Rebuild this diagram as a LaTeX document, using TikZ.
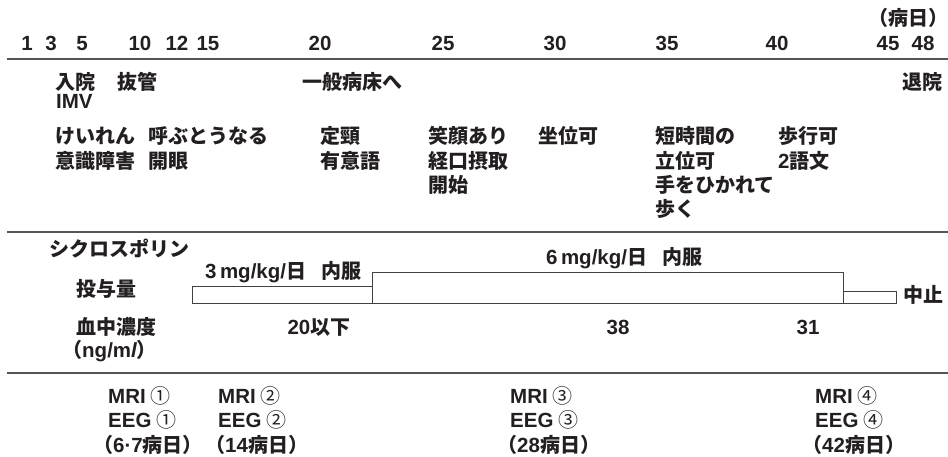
\documentclass[tikz,border=0pt]{standalone}
\usepackage{fontspec}
\newfontfamily\jp{Noto Sans CJK JP}
\newfontfamily\latinfont{Liberation Sans}[UprightFont=* Bold, BoldFont=* Bold, ItalicFont=* Bold Italic, BoldItalicFont=* Bold Italic]
\newcommand\LT[1]{{\latinfont\fontsize{20.5}{24}\selectfont #1}}
\definecolor{ink}{HTML}{231F20}
\definecolor{rule}{HTML}{555555}
\tikzset{
  lbl/.style={anchor=west, inner sep=0pt, text height=17.6pt, text depth=2.4pt,
    font=\jp\bfseries\fontsize{20}{24}\selectfont, text=ink},
  num/.style={lbl, anchor=center},
  sep/.style={draw=rule, line width=1.3pt},
  bar/.style={draw=ink!85, line width=0.9pt}
}
\begin{document}
\begin{tikzpicture}[x=1pt,y=-1pt]
\useasboundingbox (0,0) rectangle (948,456);
% axis
\node[lbl] (unit) at (868,18) {（病日）};
\foreach \d/\x in {1/27,3/51,5/82,10/140,12/177,15/208,20/320,25/443,30/555,35/667,40/777,45/888,48/923}
  \node[num] (d\d) at (\x,42.5) {\LT{\d}};
\coordinate (s1l) at (7,59); \coordinate (s1r) at (948,59);
\draw[sep] (s1l) -- (s1r);
% events
\node[lbl] (e1) at (55,82) {入院};
\node[lbl] (e1b) at (56,101) {\LT{IMV}};
\node[lbl] (e2) at (117,82) {抜管};
\node[lbl] (e3) at (302,82) {一般病床へ};
\node[lbl] (e4) at (902,82) {退院};
% status
\node[lbl] (a1) at (55,136) {けいれん};
\node[lbl] (a2) at (55,161) {意識障害};
\node[lbl] (b1) at (148,136) {呼ぶとうなる};
\node[lbl] (b2) at (148,161) {開眼};
\node[lbl] (c1) at (320,136) {定頸};
\node[lbl] (c2) at (320,161) {有意語};
\node[lbl] (f1) at (428,136) {笑顔あり};
\node[lbl] (f2) at (428,161) {経口摂取};
\node[lbl] (f3) at (428,185) {開始};
\node[lbl] (g1) at (538,136) {坐位可};
\node[lbl] (h1) at (655,136) {短時間の};
\node[lbl] (h2) at (655,161) {立位可};
\node[lbl] (h3) at (655,185) {手をひかれて};
\node[lbl] (h4) at (655,209) {歩く};
\node[lbl] (k1) at (778,136) {歩行可};
\node[lbl] (k2) at (778,161) {\LT{2}語文};
\coordinate (s2l) at (7,232); \coordinate (s2r) at (948,232);
\draw[sep] (s2l) -- (s2r);
% cyclosporin
\node[lbl] (cy) at (49,249) {シクロスポリン};
\node[lbl] (dose) at (76,289) {投与量};
\node[lbl] (conc) at (76,327) {血中濃度};
\node[lbl] (unitc) at (62,350) {（\LT{ng/m{\itshape l}}）};
\node[lbl] (d3) at (205,271) {\LT{3\,mg/kg/}日\hspace{0.75em}内服};
\node[lbl] (d6) at (546,257) {\LT{6\,mg/kg/}日\hspace{0.75em}内服};
\node[lbl] (stop) at (903,295) {中止};
\coordinate (p1) at (192,286); \coordinate (p2) at (372,303);
\coordinate (q1) at (372,272); \coordinate (q2) at (843,303);
\coordinate (r1) at (843,291); \coordinate (r2) at (896,303);
\draw[bar] (p1) rectangle (p2);
\draw[bar] (q1) rectangle (q2);
\draw[bar] (r1) rectangle (r2);
\node[num] (c20) at (319,327) {\LT{20}以下};
\node[num] (c38) at (618,327) {\LT{38}};
\node[num] (c31) at (808,327) {\LT{31}};
\coordinate (s3l) at (7,373); \coordinate (s3r) at (948,373);
\draw[sep] (s3l) -- (s3r);
% exams
\node[lbl] (m1) at (108,396) {\LT{MRI} {\mdseries ①}};
\node[lbl] (n1) at (108,420) {\LT{EEG} {\mdseries ①}};
\node[lbl] (o1) at (93,445) {（\LT{6·7}病日）};
\node[lbl] (m2) at (218,396) {\LT{MRI} {\mdseries ②}};
\node[lbl] (n2) at (218,420) {\LT{EEG} {\mdseries ②}};
\node[lbl] (o2) at (205,445) {（\LT{14}病日）};
\node[lbl] (m3) at (510,396) {\LT{MRI} {\mdseries ③}};
\node[lbl] (n3) at (510,420) {\LT{EEG} {\mdseries ③}};
\node[lbl] (o3) at (497,445) {（\LT{28}病日）};
\node[lbl] (m4) at (815,396) {\LT{MRI} {\mdseries ④}};
\node[lbl] (n4) at (815,420) {\LT{EEG} {\mdseries ④}};
\node[lbl] (o4) at (802,445) {（\LT{42}病日）};
\end{tikzpicture}
\end{document}
